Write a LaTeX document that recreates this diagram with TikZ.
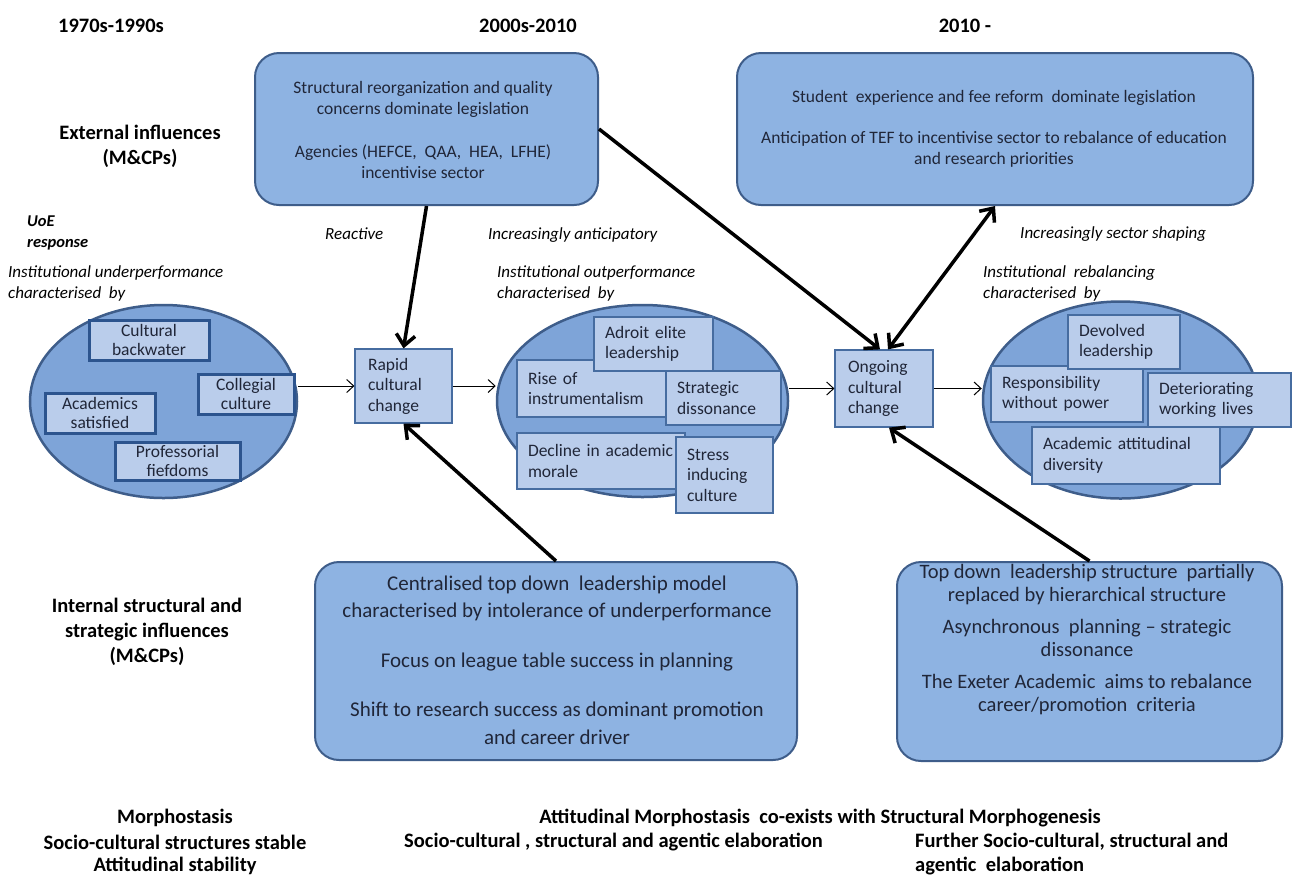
\documentclass[tikz,border=0pt]{standalone}
\usepackage{fontspec}
\setmainfont{Carlito}
\usetikzlibrary{arrows.meta,shapes.geometric}

\definecolor{boxfill}{RGB}{142,179,226}
\definecolor{boxline}{RGB}{62,93,138}
\definecolor{ellfill}{RGB}{126,164,216}
\definecolor{itemfill}{RGB}{186,205,235}
\definecolor{itemline}{RGB}{70,108,160}
\definecolor{olditemline}{RGB}{44,84,142}
\definecolor{boxtxt}{RGB}{32,38,56}

\newcommand\topfont{\fontsize{17.5}{21}\selectfont}
\newcommand\itemfont{\fontsize{17.5}{20.5}\selectfont}
\newcommand\olditemfont{\fontsize{17.5}{19}\selectfont}
\newcommand\labelfont{\fontsize{17}{21}\selectfont\itshape}
\newcommand\headfont{\fontsize{20.5}{25}\selectfont\bfseries}
\newcommand\footfont{\fontsize{20.5}{24}\selectfont\bfseries}

\tikzset{
  bigbox/.style={draw=boxline, line width=2pt, fill=boxfill, rounded corners=24pt, inner sep=0pt},
  boxtext/.style={align=center, text=boxtxt, inner sep=0pt},
  oval/.style={ellipse, draw=boxline, line width=2.5pt, fill=ellfill, inner sep=0pt},
  item/.style={draw=itemline, line width=1.3pt, fill=itemfill, align=left,
    inner xsep=11pt, inner ysep=0pt, text=boxtxt, font=\itemfont},
  olditem/.style={draw=olditemline, line width=3pt, fill=itemfill, align=center,
    inner sep=0pt, text=boxtxt, font=\olditemfont},
  changebox/.style={draw=itemline, line width=1.2pt, fill=itemfill, align=left,
    inner xsep=13pt, inner ysep=0pt, text=boxtxt, font=\itemfont},
  tag/.style={inner sep=0pt, font=\labelfont, align=left},
  head/.style={inner sep=0pt, font=\headfont, align=center},
  foot/.style={inner sep=0pt, font=\footfont, align=center},
  flow/.style={line width=1pt, -{Straight Barb[length=7pt,width=13pt]}},
  push/.style={line width=3.5pt, -{Straight Barb[length=11pt,width=19pt]}},
  pushboth/.style={line width=3.5pt, {Straight Barb[length=11pt,width=19pt]}-{Straight Barb[length=11pt,width=19pt]}}
}

\begin{document}
\begin{tikzpicture}[x=1pt,y=-1pt]
\useasboundingbox (0,0) rectangle (1300,879);
\fill[white] (0,0) rectangle (1300,879);

% period headings
\node[head] (h1) at (111,26) {1970s-1990s};
\node[head] (h2) at (528,26) {2000s-2010};
\node[head] (h3) at (965,26) {2010 -};

% row headings
\node[head] (ext) at (140,146) {External influences\\(M\&CPs)};
\node[head] (int) at (147,632) {Internal structural and\\strategic influences\\(M\&CPs)};
\node[tag, font=\fontsize{16.5}{21}\selectfont\bfseries\itshape, anchor=west] (uoe) at (27,233) {UoE\\response};

% external influence boxes
\node[bigbox, minimum width=343, minimum height=152] (tl) at (426.5,129) {};
\node[boxtext, font=\topfont] (tlt) at (423,130) {Structural reorganization and quality\\concerns dominate legislation\\[22pt]Agencies (HEFCE,\ \ QAA,\ \ HEA,\ \ LFHE)\\incentivise sector};
\node[bigbox, minimum width=516, minimum height=152] (tr) at (995,129) {};
\node[boxtext, font=\topfont] (trt) at (994,129) {Student\ \ experience and fee reform\ \ dominate legislation\\[20pt]Anticipation of TEF to incentivise sector to rebalance of education\\and research priorities};

% response labels
\node[tag, anchor=west] (lr) at (325,234) {Reactive};
\node[tag, anchor=west] (la) at (488,235) {Increasingly anticipatory};
\node[tag, anchor=west] (ls) at (1020,234) {Increasingly sector shaping};
\node[tag, anchor=west] (c1) at (8,283) {Institutional underperformance\\characterised\ \ by};
\node[tag, anchor=west] (c2) at (497,283) {Institutional outperformance\\characterised\ \ by};
\node[tag, anchor=west] (c3) at (983,283) {Institutional\ \ rebalancing\\characterised\ \ by};

% first period
\node[oval, minimum width=267, minimum height=193] (le) at (163.5,401.5) {};
\node[olditem, minimum width=120, minimum height=40] (cb) at (149,340) {Cultural\\backwater};
\node[olditem, minimum width=96, minimum height=40] (cc) at (246,394) {Collegial\\culture};
\node[olditem, minimum width=110, minimum height=40] (as) at (100,413) {Academics\\satisfied};
\node[olditem, minimum width=125, minimum height=38] (pf) at (177.5,461) {Professorial\\fiefdoms};

\node[changebox, minimum width=97, minimum height=74, text width=71] (rp) at (403.5,386) {Rapid\\cultural\\change};

% second period
\node[oval, minimum width=291, minimum height=192] (me) at (642.5,401) {};
\node[item, minimum width=171, minimum height=57, text width=149] (ri) at (602.5,388.5) {Rise of\\instrumentalism};
\node[item, minimum width=119, minimum height=54, text width=97] (ae) at (653.5,344) {Adroit elite\\leadership};
\node[item, minimum width=115, minimum height=54, text width=93] (sd) at (723.5,398) {Strategic\\dissonance};
\node[item, minimum width=168, minimum height=56, text width=146] (da) at (601,461) {Decline in academic\\morale};
\node[item, minimum width=97, minimum height=76, text width=75] (si) at (724.5,475) {Stress\\inducing\\culture};

\node[changebox, minimum width=98, minimum height=77, text width=72] (og) at (884,388.5) {Ongoing\\cultural\\change};

% third period
\node[oval, minimum width=275, minimum height=197] (re) at (1120.5,400) {};
\node[item, minimum width=152, minimum height=56, text width=130] (rw) at (1067,394) {Responsibility\\without power};
\node[item, minimum width=112, minimum height=54, text width=90] (dl) at (1124,342) {Devolved\\leadership};
\node[item, minimum width=143, minimum height=54, text width=121] (dw) at (1219.5,400) {Deteriorating\\working lives};
\node[item, minimum width=188, minimum height=57, text width=166] (ad) at (1126,455.5) {Academic attitudinal\\diversity};

% internal influence boxes
\node[bigbox, minimum width=482, minimum height=198] (bl) at (556,661) {};
\node[boxtext, font=\fontsize{21}{27.5}\selectfont] (blt) at (557,660) {Centralised top down\ \ leadership model\\characterised by intolerance of underperformance\\[22pt]Focus on league table success in planning\\[22pt]Shift to research success as dominant promotion\\and career driver};
\node[bigbox, minimum width=385, minimum height=199] (br) at (1089.5,661.5) {};
\node[boxtext, font=\fontsize{20.5}{23}\selectfont] (brt) at (1087,640) {Top down\ \ leadership structure\ \ partially\\replaced by hierarchical structure\\[9pt]Asynchronous\ \ planning -- strategic\\dissonance\\[9pt]The Exeter Academic\ \ aims to rebalance\\career/promotion\ \ criteria};

% flow between stages
\draw[flow] (le.east |- rp.west) -- (rp.west);
\draw[flow] (rp.east) -- (me.west |- rp.east);
\draw[flow] (me.east |- og.west) -- (og.west);
\draw[flow] (og.east) -- (re.west |- og.east);

% influences
\draw[push] (tl.south) -- (rp.north);
\draw[push] (tl.east) -- ([xshift=-4pt]og.north);
\draw[pushboth] (tr.south) -- ([xshift=4pt]og.north);
\draw[push] (bl.north) -- (rp.south);
\draw[push] (br.north) -- ([xshift=5pt]og.south);

% outcomes
\node[foot] (f1) at (175,818) {Morphostasis};
\node[foot] (f2) at (175,842) {Socio-cultural structures stable};
\node[foot] (f3) at (175,866) {Attitudinal stability};
\node[foot] (f4) at (820,818) {Attitudinal Morphostasis\ \ co-exists with Structural Morphogenesis};
\node[foot, anchor=west] (f5) at (404,842) {Socio-cultural , structural and agentic elaboration};
\node[foot, anchor=west, align=left] (f6) at (915,854) {Further Socio-cultural, structural and\\agentic\ \ elaboration};
\end{tikzpicture}
\end{document}
